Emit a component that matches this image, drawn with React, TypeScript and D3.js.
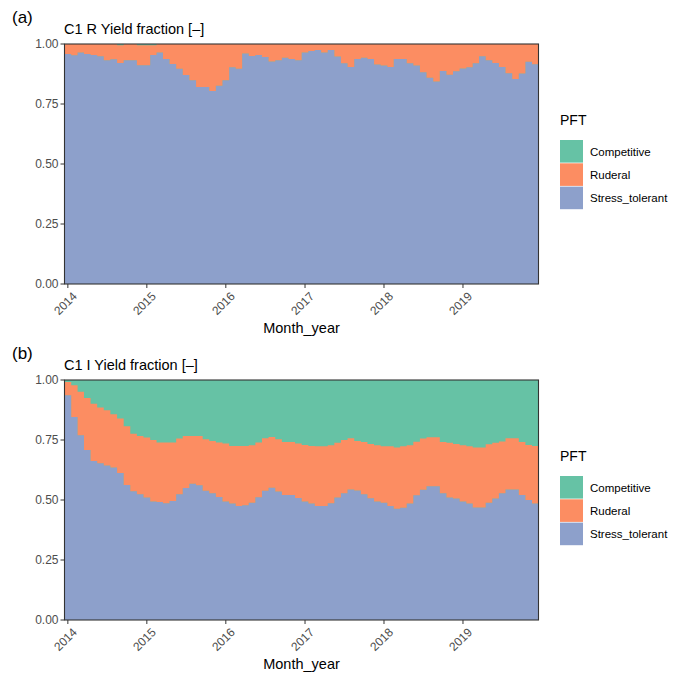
import React, { useRef, useEffect } from 'react';
import * as d3 from 'd3';

// monthly steps Jan 2014 .. Dec 2019
const months = d3.timeMonths(new Date(2014, 0, 1), new Date(2020, 0, 1));
const yearTicks = [2014, 2015, 2016, 2017, 2018, 2019];
const yTicks = [0, 0.25, 0.5, 0.75, 1];
const pftKeys = ['Competitive', 'Ruderal', 'Stress_tolerant'];
const pftColors = ['#66c2a5', '#fc8d62', '#8da0cb'];

// panel (a) C1 R
const aStress = [
  0.958, 0.953, 0.965, 0.958, 0.954, 0.949, 0.932, 0.936, 0.921, 0.932, 0.932, 0.911,
  0.911, 0.954, 0.965, 0.938, 0.917, 0.897, 0.871, 0.849, 0.821, 0.821, 0.804, 0.826,
  0.849, 0.903, 0.897, 0.960, 0.950, 0.954, 0.946, 0.927, 0.932, 0.943, 0.938, 0.932,
  0.965, 0.971, 0.975, 0.965, 0.975, 0.948, 0.920, 0.904, 0.937, 0.943, 0.937, 0.915,
  0.910, 0.904, 0.937, 0.937, 0.920, 0.910, 0.882, 0.859, 0.844, 0.887, 0.872, 0.886,
  0.898, 0.903, 0.920, 0.949, 0.932, 0.921, 0.904, 0.878, 0.854, 0.877, 0.926, 0.916,
];
const aRuderal = [
  0.042, 0.047, 0.035, 0.042, 0.046, 0.051, 0.068, 0.064, 0.074, 0.068, 0.068, 0.084,
  0.084, 0.041, 0.035, 0.062, 0.083, 0.103, 0.129, 0.151, 0.179, 0.179, 0.196, 0.174,
  0.151, 0.097, 0.103, 0.040, 0.050, 0.046, 0.054, 0.073, 0.068, 0.057, 0.062, 0.068,
  0.035, 0.029, 0.025, 0.035, 0.025, 0.052, 0.080, 0.096, 0.063, 0.057, 0.063, 0.085,
  0.090, 0.096, 0.063, 0.063, 0.080, 0.090, 0.118, 0.141, 0.156, 0.113, 0.128, 0.114,
  0.102, 0.097, 0.080, 0.051, 0.068, 0.079, 0.096, 0.122, 0.146, 0.123, 0.074, 0.084,
];
const aCompetitive = [
  0, 0, 0, 0, 0, 0, 0, 0, 0.005, 0, 0, 0.005,
  0.005, 0.005, 0, 0, 0, 0, 0, 0, 0, 0, 0, 0,
  0, 0, 0, 0, 0, 0, 0, 0, 0, 0, 0, 0,
  0, 0, 0, 0, 0, 0, 0, 0, 0, 0, 0, 0,
  0, 0, 0, 0, 0, 0, 0, 0, 0, 0, 0, 0,
  0, 0, 0, 0, 0, 0, 0, 0, 0, 0, 0, 0,
];

// panel (b) C1 I
const bStress = [
  0.936, 0.846, 0.770, 0.708, 0.663, 0.653, 0.644, 0.635, 0.613, 0.563, 0.536, 0.524,
  0.510, 0.494, 0.492, 0.486, 0.496, 0.524, 0.550, 0.568, 0.561, 0.539, 0.528, 0.513,
  0.494, 0.485, 0.475, 0.478, 0.489, 0.511, 0.539, 0.551, 0.535, 0.521, 0.521, 0.508,
  0.494, 0.485, 0.475, 0.475, 0.486, 0.510, 0.528, 0.544, 0.540, 0.524, 0.507, 0.494,
  0.489, 0.475, 0.464, 0.468, 0.485, 0.520, 0.543, 0.557, 0.557, 0.528, 0.510, 0.506,
  0.494, 0.485, 0.469, 0.469, 0.489, 0.506, 0.528, 0.544, 0.544, 0.521, 0.500, 0.485,
];
const bRuderal = [
  0.056, 0.132, 0.181, 0.217, 0.238, 0.232, 0.230, 0.222, 0.227, 0.244, 0.240, 0.243,
  0.250, 0.256, 0.248, 0.254, 0.244, 0.232, 0.217, 0.199, 0.206, 0.214, 0.218, 0.227,
  0.241, 0.240, 0.250, 0.247, 0.239, 0.229, 0.218, 0.212, 0.218, 0.221, 0.221, 0.227,
  0.235, 0.240, 0.249, 0.249, 0.242, 0.229, 0.222, 0.213, 0.206, 0.218, 0.226, 0.234,
  0.235, 0.249, 0.255, 0.256, 0.243, 0.223, 0.213, 0.204, 0.204, 0.214, 0.229, 0.227,
  0.234, 0.239, 0.250, 0.250, 0.243, 0.233, 0.216, 0.213, 0.213, 0.221, 0.229, 0.240,
];
const bCompetitive = [
  0.008, 0.022, 0.049, 0.075, 0.099, 0.115, 0.126, 0.143, 0.160, 0.193, 0.224, 0.233,
  0.240, 0.250, 0.260, 0.260, 0.260, 0.244, 0.233, 0.233, 0.233, 0.247, 0.254, 0.260,
  0.265, 0.275, 0.275, 0.275, 0.272, 0.260, 0.243, 0.237, 0.247, 0.258, 0.258, 0.265,
  0.271, 0.275, 0.276, 0.276, 0.272, 0.261, 0.250, 0.243, 0.254, 0.258, 0.267, 0.272,
  0.276, 0.276, 0.281, 0.276, 0.272, 0.257, 0.244, 0.239, 0.239, 0.258, 0.261, 0.267,
  0.272, 0.276, 0.281, 0.281, 0.268, 0.261, 0.256, 0.243, 0.243, 0.258, 0.271, 0.275,
];

const panels = [
  { tag: '(a)', title: 'C1 R Yield fraction [\u2013]', top: 44, stress: aStress, ruderal: aRuderal, competitive: aCompetitive },
  { tag: '(b)', title: 'C1 I Yield fraction [\u2013]', top: 380, stress: bStress, ruderal: bRuderal, competitive: bCompetitive },
];

const FONT = '"Liberation Sans", Arial, Helvetica, sans-serif';

const App = () => {
  const svgRef = useRef<SVGSVGElement>(null);

  useEffect(() => {
    document.body.style.margin = '0';
    const svg = d3.select(svgRef.current);
    svg.selectAll('*').remove();

    const left = 64.5;
    const right = 538.5;
    const plotH = 240;

    // bar edges: half way between month starts
    const t = months.map(d => d.getTime());
    const edges = t.map((v, i) => (i === 0 ? v - (t[1] - t[0]) / 2 : (t[i - 1] + v) / 2));
    const endEdge = t[t.length - 1] + (t[t.length - 1] - t[t.length - 2]) / 2;

    const x = d3.scaleTime()
      .domain([new Date(edges[0]), new Date(endEdge)])
      .range([left, right]);

    panels.forEach(p => {
      const g = svg.append('g');
      const y = d3.scaleLinear().domain([0, 1]).range([p.top + plotH, p.top]);

      const rows = months.map((d, i) => ({
        edge: edges[i],
        Stress_tolerant: p.stress[i],
        Ruderal: p.ruderal[i],
        Competitive: p.competitive[i],
      }));
      rows.push({ ...rows[rows.length - 1], edge: endEdge });

      const stack = d3.stack<any>().keys(['Stress_tolerant', 'Ruderal', 'Competitive']);
      const series = stack(rows);

      const area = d3.area<any>()
        .x(d => x(new Date(d.data.edge)))
        .y0(d => y(d[0]))
        .y1(d => y(Math.min(1, d[1])))
        .curve(d3.curveStepAfter);

      const colorOf: Record<string, string> = {
        Competitive: pftColors[0], Ruderal: pftColors[1], Stress_tolerant: pftColors[2],
      };

      // the top layer fills down to the ruderal top so no gap shows at 1.0
      g.append('rect')
        .attr('x', left).attr('y', p.top)
        .attr('width', right - left).attr('height', plotH)
        .attr('fill', colorOf.Competitive);

      series.forEach(s => {
        if (s.key === 'Competitive') return;
        g.append('path')
          .datum(s)
          .attr('fill', colorOf[s.key])
          .attr('d', area);
      });

      // panel frame
      g.append('rect')
        .attr('x', left).attr('y', p.top)
        .attr('width', right - left).attr('height', plotH)
        .attr('fill', 'none')
        .attr('stroke', '#333333')
        .attr('stroke-width', 1.1);

      // y axis
      yTicks.forEach(v => {
        g.append('line')
          .attr('x1', left - 4).attr('x2', left)
          .attr('y1', y(v)).attr('y2', y(v))
          .attr('stroke', '#333333').attr('stroke-width', 1);
        g.append('text')
          .attr('x', left - 6).attr('y', y(v))
          .attr('dy', '0.35em')
          .attr('text-anchor', 'end')
          .style('font-family', FONT).style('font-size', '12px')
          .attr('fill', '#4d4d4d')
          .text(d3.format('.2f')(v));
      });

      // x axis
      const bottom = p.top + plotH;
      yearTicks.forEach(yr => {
        const xx = x(new Date(yr, 0, 1));
        g.append('line')
          .attr('x1', xx).attr('x2', xx)
          .attr('y1', bottom).attr('y2', bottom + 4)
          .attr('stroke', '#333333').attr('stroke-width', 1);
        g.append('text')
          .attr('transform', `translate(${xx + 4},${bottom + 7}) rotate(-45)`)
          .attr('text-anchor', 'end')
          .attr('dy', '0.7em')
          .style('font-family', FONT).style('font-size', '12px')
          .attr('fill', '#4d4d4d')
          .text(String(yr));
      });

      g.append('text')
        .attr('x', (left + right) / 2).attr('y', bottom + 49)
        .attr('text-anchor', 'middle')
        .style('font-family', FONT).style('font-size', '14.5px')
        .attr('fill', '#000')
        .text('Month_year');

      // title and tag
      g.append('text')
        .attr('x', left - 0.5).attr('y', p.top - 10.5)
        .style('font-family', FONT).style('font-size', '14.5px')
        .attr('fill', '#000')
        .text(p.title);
      g.append('text')
        .attr('x', 12).attr('y', p.top - 21)
        .style('font-family', FONT).style('font-size', '17px')
        .attr('fill', '#000')
        .text(p.tag);

      // legend
      const lx = 560;
      const ly = p.top + 81;
      g.append('text')
        .attr('x', lx).attr('y', ly)
        .style('font-family', FONT).style('font-size', '14px')
        .attr('fill', '#000')
        .text('PFT');
      pftKeys.forEach((k, i) => {
        const ky = ly + 15 + i * 23.3;
        g.append('rect')
          .attr('x', lx).attr('y', ky)
          .attr('width', 23).attr('height', 22.6)
          .attr('fill', pftColors[i]);
        g.append('text')
          .attr('x', lx + 30).attr('y', ky + 11.5)
          .attr('dy', '0.35em')
          .style('font-family', FONT).style('font-size', '11.5px')
          .attr('fill', '#000')
          .text(k);
      });
    });
  }, []);

  return (
    <svg
      ref={svgRef}
      width={675}
      height={678}
      style={{ position: 'absolute', left: 0, top: 0, background: '#fff' }}
    />
  );
};

export default App;
